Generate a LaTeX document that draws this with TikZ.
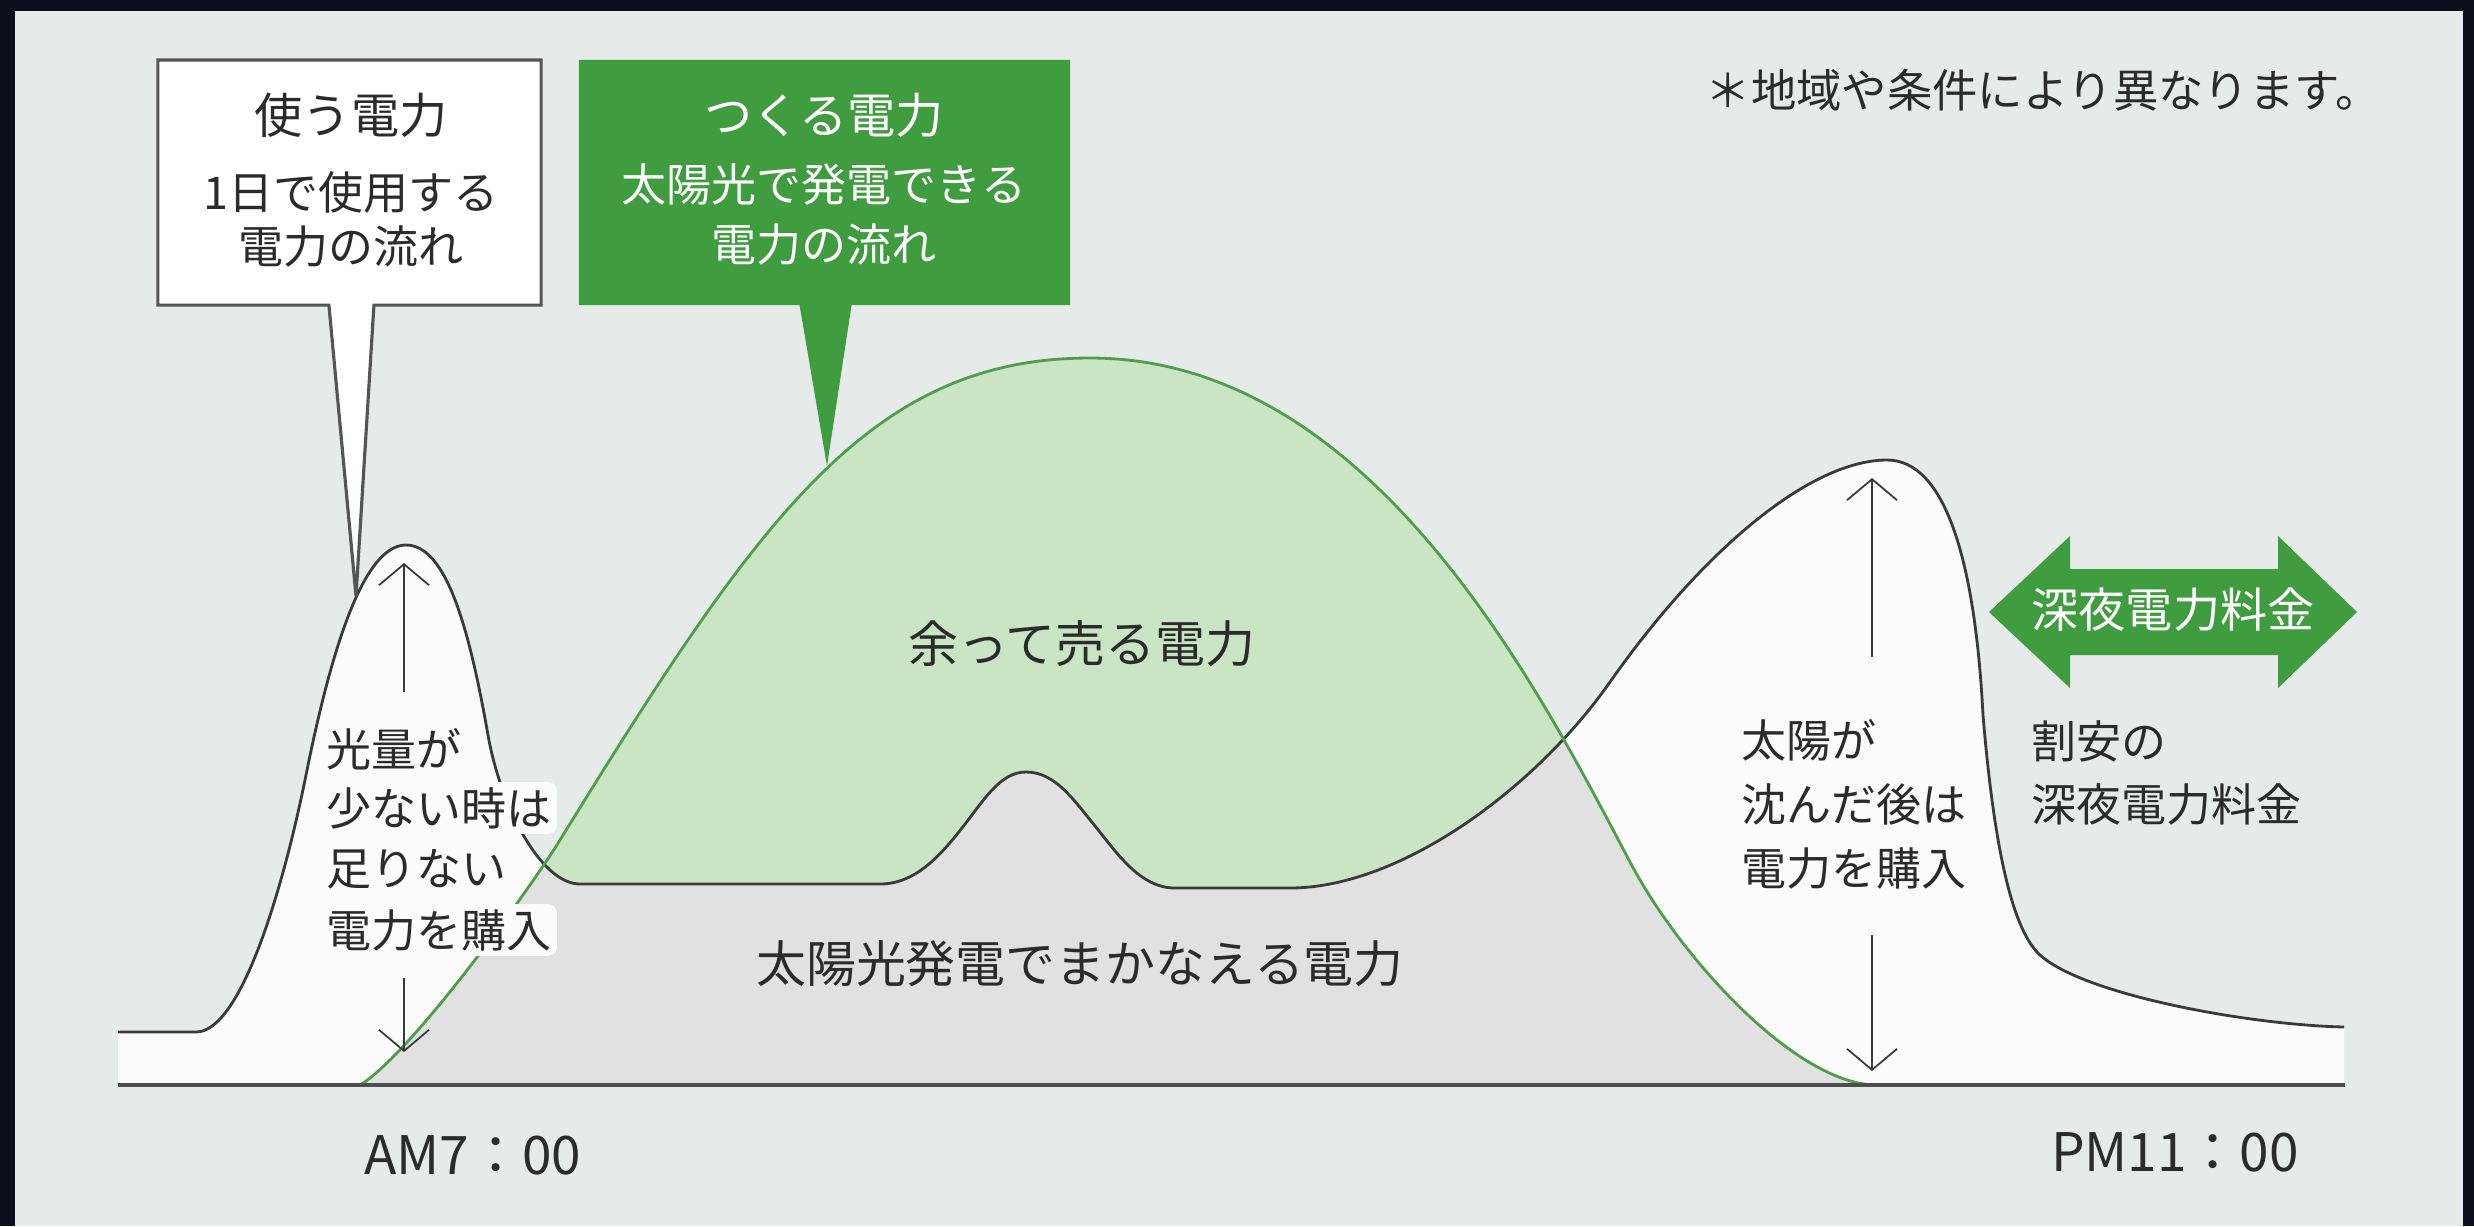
\documentclass[tikz,border=0pt]{standalone}
\usepackage{fontspec}
\setmainfont{Noto Sans CJK JP}
\usetikzlibrary{arrows.meta,shapes.callouts}
\definecolor{bordercol}{HTML}{0D0E1C}
\definecolor{pagecol}{HTML}{E6EBEA}
\definecolor{grn}{HTML}{3F9C3F}
\definecolor{grnline}{HTML}{4E9E4B}
\definecolor{lgrn}{HTML}{CAE5C4}
\definecolor{lgray}{HTML}{E0E1E0}
\definecolor{wht}{HTML}{FAFBFA}
\definecolor{txt}{HTML}{2B2B2B}
\definecolor{curve}{HTML}{3A3A3A}
\definecolor{boxline}{HTML}{555555}
\newcommand\fsTitle{\fontsize{13.7pt}{16pt}\selectfont}
\newcommand\fsBody{\fontsize{12.8pt}{15pt}\selectfont}
\newcommand\fsMain{\fontsize{14.2pt}{17pt}\selectfont}
\newcommand\fsNote{\fontsize{12.9pt}{15pt}\selectfont}
\newcommand\fsTime{\fontsize{15.1pt}{18pt}\selectfont}
\newcommand\fsNight{\fontsize{13.4pt}{16pt}\selectfont}
\newcommand\conscurve{(118,1032) -- (196,1032)
  .. controls (241,1032) and (283,888) .. (305,780)
  .. controls (328.5,662) and (361,545) .. (406,545)
  .. controls (446,545) and (469,627) .. (488,735)
  .. controls (500,804) and (540,884) .. (580,884)
  -- (880,884)
  .. controls (915,884) and (940,856) .. (962,828)
  .. controls (984,800) and (1000,772) .. (1026,772)
  .. controls (1055,772) and (1073,799) .. (1095,826)
  .. controls (1117,853) and (1140,888) .. (1175,888)
  -- (1290,888)
  .. controls (1400,888) and (1535,789) .. (1610,682)
  .. controls (1702,551) and (1810,460) .. (1887,460)
  .. controls (1945,460) and (1975,560) .. (1983,715)
  .. controls (1993,835) and (2010,928) .. (2040,955)
  .. controls (2084,995) and (2250,1025) .. (2344,1027)}
\newcommand\suncurve{(360,1085)
  .. controls (410,1055) and (528.5,891) .. (560,840)
  .. controls (759.5,516.6) and (870,358) .. (1090,358)
  .. controls (1370,358) and (1536.8,685) .. (1630,862)
  .. controls (1681.3,959.4) and (1797,1085) .. (1877,1085)}
\begin{document}
\begin{tikzpicture}[x=0.01cm,y=-0.01cm,
  jp/.style={text=txt,inner sep=0pt},
  halo/.style={fill=wht,rounded corners=0.08cm,inner sep=0.05cm,text=txt},
  vline/.style={draw=curve,line width=0.5pt,-{Straight Barb[length=0.21cm,width=0.5cm]}},
  consline/.style={draw=curve,line width=0.8pt},
  sunline/.style={draw=grnline,line width=0.8pt}]
\useasboundingbox (0,0) rectangle (2474,1226);
\fill[bordercol] (0,0) rectangle (2474,1226);
\fill[pagecol] (15,11) rectangle (2463,1226);

% areas
\fill[wht] \conscurve -- (2344,1085) -- (118,1085) -- cycle;
\fill[lgrn] \suncurve -- cycle;
\begin{scope}
  \clip \suncurve -- cycle;
  \fill[lgray] \conscurve -- (2344,1085) -- (118,1085) -- cycle;
\end{scope}
\draw[consline] \conscurve;
\draw[sunline] \suncurve;

% baseline
\coordinate (b0) at (118,1085);
\coordinate (b1) at (2345,1085);
\draw[draw=curve!90,line width=1.1pt] (b0) -- (b1);

% callouts
\node[rectangle callout,draw=boxline,fill=white,line width=0.9pt,inner sep=0pt,
  minimum width=3.83cm,minimum height=2.45cm,
  callout absolute pointer={(356,596)},callout pointer width=0.45cm] (usebox) at (349.5,182.5) {};
\node[rectangle callout,fill=grn,inner sep=0pt,
  minimum width=4.91cm,minimum height=2.45cm,
  callout absolute pointer={(827,466)},callout pointer width=0.52cm] (makebox) at (824.5,182.5) {};
\node[jp,font=\fsTitle] (useT) at (351,115) {使う電力};
\node[jp,font=\fsBody] (useB1) at (351,192) {1日で使用する};
\node[jp,font=\fsBody] (useB2) at (351,246) {電力の流れ};
\node[jp,font=\fsTitle,text=white] (makeT) at (824,115) {つくる電力};
\node[jp,font=\fsBody,text=white] (makeB1) at (824,184) {太陽光で発電できる};
\node[jp,font=\fsBody,text=white] (makeB2) at (824,244) {電力の流れ};

% note
\node[jp,font=\fsNote,anchor=west] (note) at (1705,90) {＊地域や条件により異なります。};

% left buy label
\node[halo,font=\fsBody,anchor=west] (l1) at (321,749) {光量が};
\node[halo,font=\fsBody,anchor=west] (l2) at (321,808) {少ない時は};
\node[halo,font=\fsBody,anchor=west] (l3) at (321,869) {足りない};
\node[halo,font=\fsBody,anchor=west] (l4) at (321,930) {電力を購入};
\coordinate (la0) at (404,692);
\coordinate (la1) at (404,563);
\coordinate (lb0) at (404,978);
\coordinate (lb1) at (404,1052);
\draw[vline] (la0) -- (la1);
\draw[vline] (lb0) -- (lb1);

% main labels
\node[jp,font=\fsMain] (sell) at (1082,644) {余って売る電力};
\node[jp,font=\fsMain] (cover) at (1080,964) {太陽光発電でまかなえる電力};

% right buy label
\node[jp,font=\fsBody,anchor=west] (r1) at (1741,740) {太陽が};
\node[jp,font=\fsBody,anchor=west] (r2) at (1741,804) {沈んだ後は};
\node[jp,font=\fsBody,anchor=west] (r3) at (1741,868) {電力を購入};
\coordinate (ra0) at (1872,657);
\coordinate (ra1) at (1872,478);
\coordinate (rb0) at (1872,935);
\coordinate (rb1) at (1872,1071);
\draw[vline] (ra0) -- (ra1);
\draw[vline] (rb0) -- (rb1);

% night tariff arrow
\fill[grn] (1989,612) -- (2070,536) -- (2070,569) -- (2278,569) -- (2278,536) -- (2357,612)
  -- (2278,688) -- (2278,655) -- (2070,655) -- (2070,688) -- cycle;
\node[jp,font=\fsNight,text=white] (night) at (2173,610) {深夜電力料金};
\node[jp,font=\fsBody,anchor=west] (cheap1) at (2031,741) {割安の};
\node[jp,font=\fsBody,anchor=west] (cheap2) at (2031,804) {深夜電力料金};

% times
\node[jp,font=\fsTime] (am) at (473,1155) {AM7：00};
\node[jp,font=\fsTime] (pm) at (2175,1152) {PM11：00};
\end{tikzpicture}
\end{document}
